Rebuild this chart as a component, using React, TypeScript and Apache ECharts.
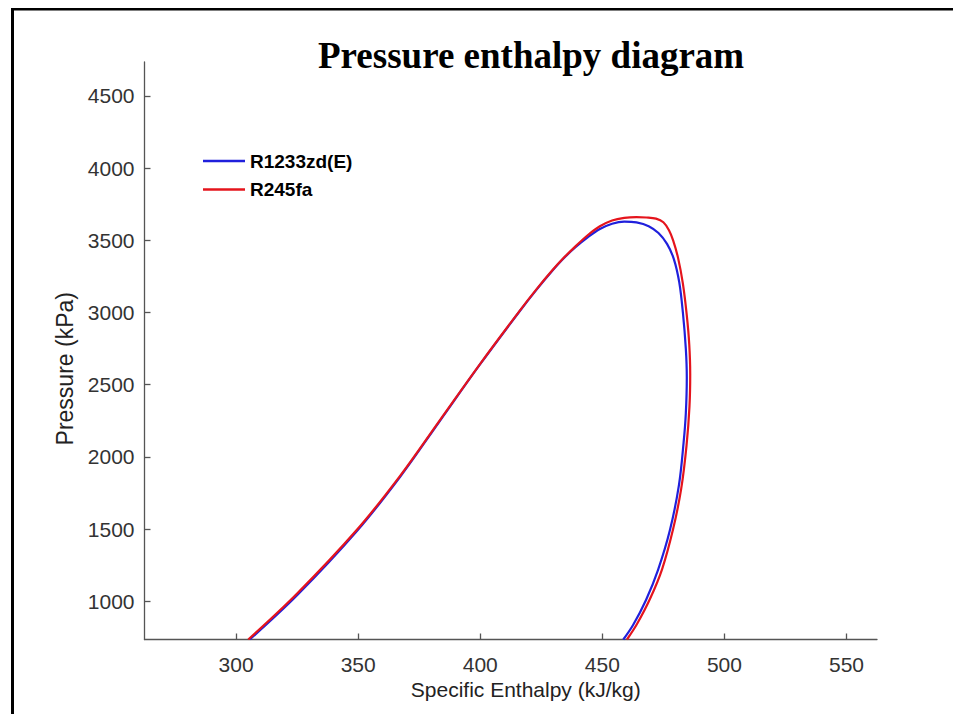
import React, { useEffect, useRef } from "react";
import * as echarts from "echarts";

// R1233zd(E) saturation dome (specific enthalpy kJ/kg, pressure kPa)
const hR1233zdE = [305.6, 325.2, 349.6, 367.2, 383.5, 399.9, 416.3, 423, 429, 434, 439, 444, 449, 454, 459, 464, 469, 473, 476.5, 479.3, 481.5, 483, 484.2, 484.6, 484.2, 483.3, 481.4, 477.7, 472.8, 467.9, 462.6, 458.6];
const pR1233zdE = [735, 1045, 1488, 1862, 2250, 2640, 3012, 3157, 3279, 3372, 3452, 3520, 3578, 3615, 3630, 3624, 3598, 3550, 3475, 3370, 3210, 3000, 2750, 2550, 2300, 2100, 1806, 1493, 1216, 1009, 835, 735];

// R245fa saturation dome
const hR245fa = [305.0, 324.8, 349.4, 367.1, 383.5, 399.9, 416.3, 423, 429, 434, 439, 444, 449, 454, 459, 464, 468, 472, 475, 477.3, 479, 481, 483, 484.6, 485.6, 486, 485.7, 484.5, 482.3, 479.0, 474.5, 469.5, 464.2, 460.1];
const pR245fa = [735, 1050, 1493, 1867, 2255, 2643, 3015, 3160, 3282, 3375, 3458, 3535, 3597, 3637, 3655, 3660, 3658, 3650, 3625, 3570, 3500, 3380, 3200, 2980, 2780, 2574, 2350, 2080, 1778, 1500, 1223, 1015, 842, 735];

const seriesNames = ["R1233zd(E)", "R245fa"];
const xTicks = [300, 350, 400, 450, 500, 550];
const yTicks = [1000, 1500, 2000, 2500, 3000, 3500, 4000, 4500];

const zip = (h: number[], p: number[]) => h.map((v, i) => [v, p[i]]);

export default function App() {
  const ref = useRef<HTMLDivElement>(null);
  useEffect(() => {
    if (!ref.current) return;
    const chart = echarts.init(ref.current, null, { renderer: "svg" });
    const axisColor = "#555555";
    const labelColor = "#333333";
    const sans = "'Liberation Sans', Arial, sans-serif";
    chart.setOption({
      animation: false,
      backgroundColor: "#ffffff",
      title: {
        text: "Pressure enthalpy diagram",
        left: 318,
        top: 37,
        padding: 0,
        textStyle: {
          fontFamily: "'Liberation Serif', 'Times New Roman', serif",
          fontWeight: "bold",
          fontSize: 37,
          color: "#000000",
        },
      },
      legend: {
        orient: "vertical",
        left: 203,
        top: 151,
        padding: 0,
        icon: "rect",
        itemWidth: 42,
        itemHeight: 2.5,
        itemGap: 8.6,
        data: seriesNames,
        textStyle: {
          fontFamily: sans,
          fontWeight: "bold",
          fontSize: 19,
          lineHeight: 20,
          color: "#000000",
        },
      },
      graphic: [
        { type: "line", shape: { x1: 12.5, y1: 8, x2: 12.5, y2: 714 }, style: { stroke: "#000", lineWidth: 3 } },
        { type: "line", shape: { x1: 11, y1: 9.3, x2: 953, y2: 9.3 }, style: { stroke: "#000", lineWidth: 2.5 } },
      ],
      grid: { left: 144.5, right: 76, top: 62, bottom: 74.5, containLabel: false },
      xAxis: {
        type: "value",
        min: 262.5,
        max: 562.5,
        name: "Specific Enthalpy (kJ/kg)",
        nameLocation: "middle",
        nameGap: 31,
        nameTextStyle: { fontFamily: sans, fontSize: 21, color: "#222222", padding: [0, 0, 0, 30] },
        splitLine: { show: false },
        axisLine: { show: true, lineStyle: { color: axisColor, width: 1.3 } },
        axisTick: { show: true, inside: true, length: 6, customValues: xTicks, lineStyle: { color: axisColor, width: 1.3 } },
        axisLabel: {
          customValues: xTicks,
          formatter: (v: number) => String(v),
          fontFamily: sans,
          fontSize: 21,
          color: labelColor,
          margin: 14,
        },
      },
      yAxis: {
        type: "value",
        min: 735,
        max: 4735,
        name: "Pressure (kPa)",
        nameLocation: "middle",
        nameGap: 67,
        nameTextStyle: { fontFamily: sans, fontSize: 23, color: "#222222", padding: [0, 36, 0, 0] },
        splitLine: { show: false },
        axisLine: { show: true, lineStyle: { color: axisColor, width: 1.3 } },
        axisTick: { show: true, inside: true, length: 6, customValues: yTicks, lineStyle: { color: axisColor, width: 1.3 } },
        axisLabel: {
          customValues: yTicks,
          formatter: (v: number) => String(v),
          fontFamily: sans,
          fontSize: 21,
          color: labelColor,
          margin: 10,
        },
      },
      series: [
        {
          name: seriesNames[0],
          type: "line",
          data: zip(hR1233zdE, pR1233zdE),
          showSymbol: false,
          symbol: "none",
          smooth: 0.35,
          clip: true,
          color: "#2020dc",
          lineStyle: { color: "#2020dc", width: 2.2 },
        },
        {
          name: seriesNames[1],
          type: "line",
          data: zip(hR245fa, pR245fa),
          showSymbol: false,
          symbol: "none",
          smooth: 0.35,
          clip: true,
          color: "#e5141c",
          lineStyle: { color: "#e5141c", width: 2.2 },
        },
      ],
    });
    return () => chart.dispose();
  }, []);
  return (
    <div
      ref={ref}
      style={{ position: "fixed", left: 0, top: 0, width: 953, height: 714, background: "#fff" }}
    />
  );
}
